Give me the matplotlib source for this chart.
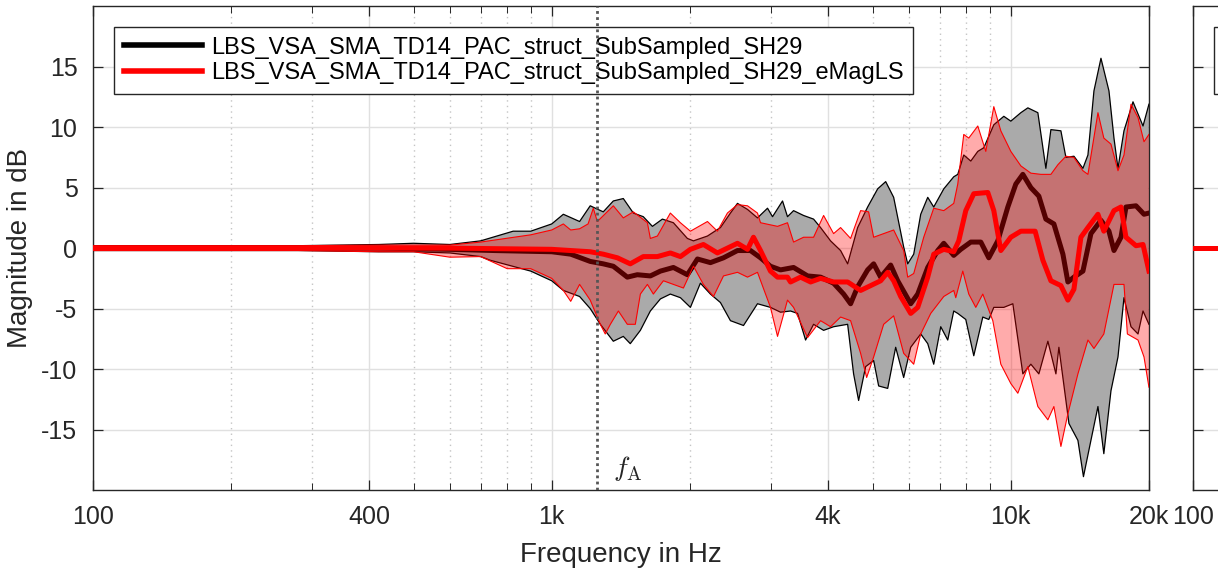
import matplotlib
matplotlib.use("Agg")
import matplotlib.pyplot as plt
from matplotlib.ticker import FixedLocator, NullFormatter
import numpy as np

plt.rcParams.update({"font.family": "Liberation Sans", "mathtext.fontset": "cm",
                     "axes.unicode_minus": False})

# ── Data (frequency in Hz, magnitude in dB) ────────────────────────────────
names = ["LBS_VSA_SMA_TD14_PAC_struct_SubSampled_SH29",
         "LBS_VSA_SMA_TD14_PAC_struct_SubSampled_SH29_eMagLS"]
f_A = 1257

# black (reference) spread band, upper edge
bu_f = [100, 280, 420, 500, 600, 700, 824, 900, 1000, 1060, 1150, 1213, 1295, 1362, 1432,
        1506, 1583, 1657, 1742, 1841, 1975, 2036, 2184, 2331, 2451, 2539, 2670, 2807, 2952,
        3027, 3183, 3263, 3364, 3537, 3719, 3852, 4050, 4259, 4412, 4639, 4878, 5129, 5340,
        5558, 5844, 5963, 6146, 6366, 6594, 6795, 7146, 7513, 7666, 7900, 8183, 8476, 8735,
        9185, 9658, 10003, 10519, 10895, 11456, 11926, 12230, 12860, 13187, 13728, 14362,
        14727, 15178, 15722, 16366, 16782, 17123, 17646, 18462, 19414, 20000]
bu_v = [0.2, 0.2, 0.3, 0.4, 0.3, 0.6, 1.4, 1.4, 2.0, 2.8, 2.2, 3.5, 3.0, 3.9, 4.1,
        2.9, 2.6, 1.8, 2.4, 2.1, 0.8, 0.6, 1.0, 1.7, 2.9, 3.7, 3.2, 2.5, 3.3,
        2.6, 3.9, 2.6, 3.1, 2.7, 2.4, 1.7, 0.6, -0.2, -1.3, 1.7, 3.4, 4.9, 5.5,
        4.2, 0.1, -1.3, -0.5, 2.8, 4.2, 3.4, 4.9, 5.9, 6.1, 7.7, 7.2, 8.0, 8.3,
        10.2, 10.9, 10.5, 11.2, 11.6, 11.2, 6.6, 9.8, 9.7, 7.5, 7.6, 6.6,
        7.7, 13.0, 15.7, 13.0, 9.1, 6.6, 9.7, 12.1, 10.1, 11.9]

# black spread band, lower edge
bl_f = [100, 280, 420, 500, 600, 700, 734, 900, 1000, 1060, 1150, 1213, 1276, 1362, 1432,
        1483, 1560, 1640, 1725, 1813, 1907, 2005, 2108, 2217, 2331, 2451, 2617, 2807, 2996,
        3151, 3313, 3432, 3573, 3719, 3911, 4112, 4412, 4546, 4662, 4829, 5027, 5155, 5394,
        5614, 5844, 6054, 6366, 6594, 6795, 7038, 7290, 7513, 7666, 7980, 8307, 8691, 8957,
        9185, 9658, 10105, 10625, 11061, 11514, 12047, 12542, 12731, 13187, 13388, 14006,
        14400, 14950, 15486, 15950, 16531, 17123, 17646, 18278, 18933, 19414, 20000]
bl_v = [-0.2, -0.2, -0.3, -0.3, -0.4, -0.7, -1.0, -1.9, -2.7, -3.5, -4.0, -5.0, -6.3, -7.7, -7.3,
        -7.9, -6.8, -5.2, -4.2, -3.8, -4.1, -4.9, -2.9, -3.8, -4.5, -6.0, -6.4, -4.6, -4.9,
        -5.3, -5.2, -5.4, -7.6, -6.3, -6.8, -6.5, -6.3, -10.4, -12.6, -9.8, -9.3, -11.4, -11.6,
        -8.2, -10.7, -8.2, -7.1, -7.9, -9.6, -6.5, -7.6, -5.2, -5.4, -5.9, -8.9, -5.7, -5.9,
        -4.9, -4.9, -4.6, -10.4, -9.6, -10.4, -7.7, -10.4, -8.2, -12.6, -14.5, -15.9,
        -18.9, -15.9, -13.1, -17.0, -11.8, -9.0, -4.1, -6.5, -7.1, -5.2, -6.3]

# red (eMagLS) spread band, upper edge
ru_f = [100, 280, 420, 500, 600, 700, 900, 1000, 1060, 1100, 1150, 1200, 1232, 1257, 1362,
        1432, 1506, 1616, 1640, 1699, 1813, 1907, 2005, 2184, 2296, 2414, 2539, 2670, 2807,
        2850, 3104, 3263, 3364, 3537, 3719, 3911, 4112, 4259, 4478, 4709, 4902, 5027, 5286,
        5558, 5844, 5963, 6146, 6462, 6795, 7146, 7513, 7666, 7900, 8101, 8476, 8823, 9185,
        9514, 10003, 10519, 11061, 11630, 12230, 12668, 13187, 13728, 14362, 14727, 15486,
        15950, 16531, 17123, 17646, 18278, 18933, 19510, 20000]
ru_v = [0.2, 0.2, 0.25, 0.25, 0.25, 0.5, 1.1, 1.5, 2.0, 1.5, 1.6, 2.0, 3.3, 2.2, 3.5,
        2.5, 3.0, 2.1, 0.8, 1.0, 2.9, 2.1, 1.4, 2.2, 1.4, 2.9, 3.6, 3.5, 2.9,
        2.1, 1.8, 2.1, 0.5, 0.9, 0.9, 2.7, 1.2, 1.7, 0.8, 3.1, 3.0, 0.9, 1.2,
        1.5, -0.2, -2.4, -2.1, 0.9, 3.3, 3.1, 3.7, 5.3, 9.4, 9.1, 10.1, 8.0, 11.7,
        9.7, 8.0, 6.8, 6.2, 6.1, 6.1, 6.9, 7.6, 7.5, 6.4, 6.1, 11.2,
        9.1, 8.6, 6.4, 7.7, 11.9, 10.8, 8.8, 9.4]

# red spread band, lower edge
rl_f = [100, 280, 420, 500, 600, 700, 800, 900, 1000, 1060, 1100, 1150, 1213, 1276, 1308,
        1342, 1397, 1461, 1521, 1560, 1616, 1665, 1751, 1841, 1936, 2036, 2140, 2251, 2367,
        2539, 2670, 2807, 2996, 3104, 3199, 3263, 3364, 3609, 3852, 4050, 4259, 4478, 4709,
        4854, 5027, 5286, 5558, 5844, 6146, 6366, 6694, 7146, 7513, 7589, 7861, 8101, 8391,
        8691, 9139, 9514, 10003, 10362, 10895, 11456, 12047, 12415, 12860, 13319, 14006,
        14727, 15178, 15950, 16782, 17646, 17950, 18933, 19510, 20000]
rl_v = [-0.2, -0.2, -0.3, -0.3, -0.75, -0.7, -1.7, -1.7, -2.5, -3.5, -4.4, -3.0, -4.3, -6.3, -7.1,
        -6.3, -5.2, -6.3, -6.3, -3.8, -3.0, -3.8, -2.7, -3.0, -3.3, -1.5, -3.0, -4.0, -2.3,
        -2.0, -2.4, -2.0, -4.9, -7.3, -5.5, -4.3, -4.9, -7.4, -6.0, -6.5, -5.7, -6.0, -8.7,
        -10.7, -9.0, -6.3, -5.6, -8.7, -9.6, -7.1, -5.4, -4.0, -3.5, -4.1, -1.9, -3.8, -4.9,
        -3.8, -6.0, -9.6, -11.2, -12.0, -9.8, -13.1, -14.2, -13.1, -16.4, -13.7, -10.4,
        -7.6, -8.3, -7.1, -3.0, -3.0, -7.1, -7.6, -9.0, -11.5]

# mean curves
bm_f = [100, 420, 600, 750, 1000, 1100, 1213, 1295, 1362, 1461, 1536, 1640, 1725, 1841, 1975,
        2077, 2217, 2367, 2539, 2710, 2850, 2996, 3151, 3364, 3609, 3852, 4112, 4324, 4478,
        4639, 4878, 5027, 5207, 5475, 5671, 6054, 6271, 6594, 6933, 7146, 7513, 7782, 8183,
        8605, 8957, 9371, 9854, 10258, 10625, 11061, 11514, 11926, 12415, 12990, 13319, 13728,
        14362, 14950, 15722, 16366, 16782, 17382, 17824, 18742, 19510, 20000]
bm_v = [0.0, 0.0, -0.1, -0.2, -0.3, -0.5, -1.1, -1.3, -1.5, -2.4, -2.2, -2.3, -1.9, -1.6, -2.2,
        -0.9, -1.2, -0.8, -0.2, -0.2, -0.8, -1.5, -1.8, -1.6, -2.3, -2.4, -2.9, -3.8, -4.6,
        -3.2, -1.8, -1.3, -2.4, -1.4, -2.7, -4.6, -3.8, -1.6, -0.2, 0.4, -0.6, -0.1, 0.5,
        0.5, -0.8, 0.6, 3.4, 5.3, 6.1, 5.0, 4.3, 2.4, 2.0, -0.5, -2.8, -2.4,
        -1.9, 1.2, 2.3, 1.4, -0.2, 0.9, 3.4, 3.5, 2.8, 2.9]

rm_f = [100, 420, 600, 1000, 1213, 1295, 1390, 1483, 1583, 1699, 1813, 1907, 2005, 2140, 2296,
        2414, 2539, 2670, 2751, 2850, 2996, 3104, 3263, 3313, 3484, 3664, 3852, 4112, 4412,
        4709, 4952, 5207, 5394, 5558, 5757, 6054, 6271, 6594, 6795, 7146, 7513, 7704, 7980,
        8307, 8912, 9185, 9514, 10003, 10519, 11300, 11748, 12230, 12860, 13319, 13728, 14218,
        14727, 15486, 15950, 16782, 17382, 17824, 18742, 19414, 20000]
rm_v = [0.0, 0.0, 0.0, -0.1, -0.3, -0.5, -0.8, -1.3, -0.7, -0.7, -0.4, -0.7, -0.1, 0.3, -0.4,
        0.0, 0.4, -0.1, 0.9, -0.2, -1.9, -2.4, -2.4, -2.8, -2.4, -2.8, -2.5, -2.8, -2.8,
        -3.5, -3.1, -2.7, -2.0, -2.7, -4.0, -5.4, -4.9, -2.4, -0.5, -0.1, -0.3, 0.6, 3.1,
        4.5, 4.6, 3.1, -0.2, 0.9, 1.4, 1.4, -1.0, -2.7, -3.1, -4.3, -3.4, 0.9,
        1.7, 2.8, 1.4, 3.1, 3.4, 0.9, 0.2, 0.3, -1.9]

# second panel (only its left edge is visible)
p2_f = [100, 115]
p2_v = [0.0, 0.0]

xticks = [100, 400, 1000, 4000, 10000, 20000]
xticklabels = ["100", "400", "1k", "4k", "10k", "20k"]
xminor = [200, 300, 500, 600, 700, 800, 900, 2000, 3000, 5000, 6000, 7000, 8000, 9000]
yticks = [-15, -10, -5, 0, 5, 10, 15]

EDGE = "#262626"


def style_axes(ax, ylabels=True, xlabels=xticklabels):
    ax.set_xscale("log")
    ax.set_xlim(100, 20000)
    ax.set_ylim(-20, 20)
    ax.xaxis.set_major_locator(FixedLocator(xticks))
    ax.set_xticklabels(xlabels)
    ax.xaxis.set_minor_locator(FixedLocator(xminor))
    ax.xaxis.set_minor_formatter(NullFormatter())
    ax.set_yticks(yticks)
    if not ylabels:
        ax.set_yticklabels([])
    ax.grid(True, which="major", color="#e0e0e0", linewidth=1.0, linestyle="-")
    ax.grid(True, which="minor", axis="x", color="#c4c4c4", linewidth=1.0, linestyle=(0, (1, 3)))
    ax.set_axisbelow(True)
    ax.tick_params(which="both", direction="in", top=True, right=True, color=EDGE,
                   labelsize=18, labelcolor="#262626")
    ax.tick_params(which="major", length=7.5, width=0.9, pad=11)
    ax.tick_params(which="minor", length=5, width=0.7)
    for s in ax.spines.values():
        s.set_color(EDGE)
        s.set_linewidth(1.0)


fig = plt.figure(figsize=(12.18, 5.7), dpi=100)
ax = fig.add_axes([0.0761, 0.1404, 0.8672, 0.8486])
style_axes(ax)

# black band + mean
ax.fill(np.concatenate([bu_f, bl_f[::-1]]), np.concatenate([bu_v, bl_v[::-1]]),
        color="#aaaaaa", lw=0, zorder=2)
ax.plot(bu_f, bu_v, color="k", lw=0.9, zorder=3)
ax.plot(bl_f, bl_v, color="k", lw=0.9, zorder=3)
l1, = ax.plot(bm_f, bm_v, color="k", lw=3.6, zorder=4, label=names[0])

# red band + mean
ax.fill(np.concatenate([ru_f, rl_f[::-1]]), np.concatenate([ru_v, rl_v[::-1]]),
        color="red", alpha=0.33, lw=0, zorder=5)
ax.plot(ru_f, ru_v, color="red", lw=0.8, zorder=6)
ax.plot(rl_f, rl_v, color="red", lw=0.8, zorder=6)
l2, = ax.plot(rm_f, rm_v, color="red", lw=3.6, zorder=7, label=names[1])

ax.axvline(f_A, color="#555555", lw=2.0, linestyle=(0, (1, 1.2)), zorder=8)
ax.annotate(r"$f_{\mathrm{A}}$", xy=(f_A, -18.2), xytext=(11, 0), textcoords="offset points",
            ha="left", va="center", fontsize=20, color="#262626")

ax.set_xlabel("Frequency in Hz", fontsize=20, color="#262626", labelpad=9)
ax.set_ylabel("Magnitude in dB", fontsize=20, color="#262626", labelpad=6)

leg_kw = dict(loc="upper left", fontsize=17, frameon=True, fancybox=False,
              edgecolor=EDGE, framealpha=1, borderaxespad=0, handlelength=3.3,
              handletextpad=0.4, labelspacing=0.15, borderpad=0.4)
leg = ax.legend(handles=[l1, l2], bbox_to_anchor=(0.0204, 0.9566), **leg_kw)
leg.get_frame().set_linewidth(1.0)
for h in leg.get_lines():
    h.set_linewidth(4)

# neighbouring panel, cut by the figure edge
ax2 = fig.add_axes([0.9792, 0.1404, 0.8672, 0.8486])
style_axes(ax2, ylabels=False, xlabels=["100", "", "", "", "", ""])
m1, = ax2.plot(p2_f, p2_v, color="k", lw=3.6, zorder=4)
m2, = ax2.plot(p2_f, p2_v, color="red", lw=3.6, zorder=7)
leg2 = ax2.legend(handles=[m1, m2], labels=[" ", " "], bbox_to_anchor=(0.0204, 0.9566), **leg_kw)
leg2.get_frame().set_linewidth(1.0)

fig.savefig("out.png", dpi=100)
